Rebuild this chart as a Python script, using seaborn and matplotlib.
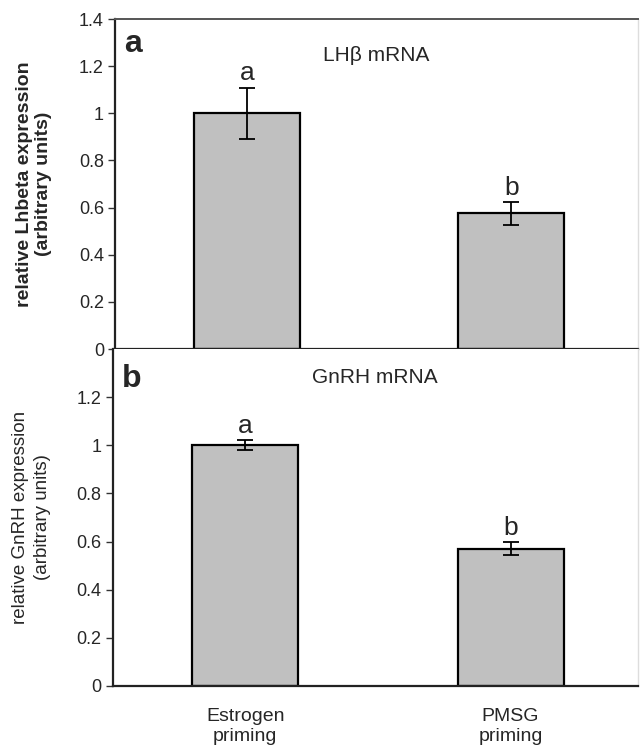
import matplotlib
matplotlib.use('Agg')
import matplotlib.pyplot as plt
import pandas as pd
import seaborn as sns

sns.set_style('ticks')
plt.rcParams['font.family'] = ['Liberation Sans', 'DejaVu Sans']

# data
groups = ['Estrogen\npriming', 'PMSG\npriming']
lh_mean = [1.0, 0.575]
lh_err = [0.108, 0.048]
lh_letters = ['a', 'b']
gnrh_mean = [1.0, 0.57]
gnrh_err = [0.021, 0.027]
gnrh_letters = ['a', 'b']
yticks = [0, 0.2, 0.4, 0.6, 0.8, 1, 1.2, 1.4]
ytick_labels = ['0', '0.2', '0.4', '0.6', '0.8', '1', '1.2', '1.4']

fig = plt.figure(figsize=(6.4, 7.52), dpi=100)
ax1 = fig.add_axes([0.1797, 0.5359, 0.8172, 0.4388])
ax2 = fig.add_axes([0.1758, 0.0878, 0.8211, 0.4481])


def panel(ax, means, errs, letters, title, tag):
    df = pd.DataFrame({'group': groups, 'value': means})
    sns.barplot(data=df, x='group', y='value', color='#c0c0c0', saturation=1,
                edgecolor='black', linewidth=1.6, width=0.4, errorbar=None, ax=ax)
    ax.errorbar(x=range(len(means)), y=means, yerr=errs, fmt='none',
                ecolor='black', elinewidth=1.3, capsize=6, capthick=1.3)
    for i, (m, e, l) in enumerate(zip(means, errs, letters)):
        ax.text(i, m + e + 0.032, l, ha='center', va='baseline', fontsize=19)
    ax.set_ylim(0, 1.4)
    ax.set_xlim(-0.5, 1.48)
    ax.set_yticks(yticks)
    ax.set_yticklabels(ytick_labels)
    ax.tick_params(axis='y', labelsize=13, length=5, width=1, pad=3, color='#333333')
    ax.text(0.5, title[1], title[0], transform=ax.transAxes, ha='center',
            va='center', fontsize=15)
    ax.text(0.018, tag[1], tag[0], transform=ax.transAxes, ha='left',
            va='center', fontsize=23, fontweight='bold')
    ax.set_xlabel('')
    for s in ['left', 'bottom']:
        ax.spines[s].set_color('#222222')
        ax.spines[s].set_linewidth(1.6)
    ax.spines['right'].set_color('#dddddd')
    ax.spines['right'].set_linewidth(1)


panel(ax1, lh_mean, lh_err, lh_letters, ('LH\u03b2 mRNA', 0.89), ('a', 0.925))
ax1.set_ylabel('relative Lhbeta expression\n(arbitrary units)', fontsize=14,
               fontweight='bold', linespacing=1.2)
ax1.yaxis.set_label_coords(-0.12, 0.5)
ax1.spines['top'].set_color('#555555')
ax1.spines['top'].set_linewidth(1.4)
ax1.set_xticks([])

panel(ax2, gnrh_mean, gnrh_err, gnrh_letters, ('GnRH mRNA', 0.915), ('b', 0.91))
ax2.set_ylabel('relative GnRH expression\n(arbitrary units)', fontsize=13.5,
               family=['Liberation Sans Narrow', 'Liberation Sans'], linespacing=1.35)
ax2.yaxis.set_label_coords(-0.118, 0.5)
ax2.spines['top'].set_visible(False)
ax2.set_yticks(yticks[:-1])
ax2.set_yticklabels(ytick_labels[:-1])
ax2.tick_params(axis='x', length=0, pad=16, labelsize=14)

fig.savefig('out.png', dpi=100)
